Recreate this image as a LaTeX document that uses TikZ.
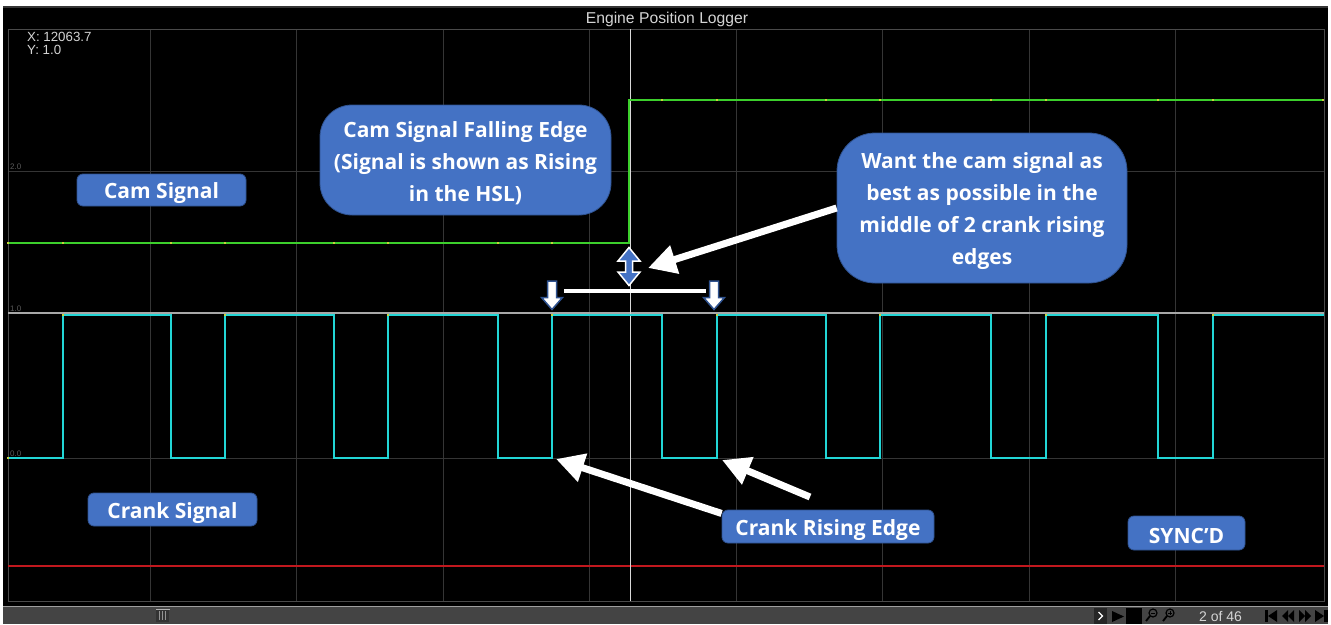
\documentclass[tikz,border=0pt]{standalone}
\usepackage{fontspec}
\usetikzlibrary{arrows.meta}
\newfontfamily\osans{Open Sans}
\newfontfamily\lsans{Liberation Sans}
\newcommand{\lowln}[1]{\raisebox{-3.2pt}[\height][\depth]{#1}}
\definecolor{boxblue}{HTML}{4472C4}
\definecolor{boxedge}{HTML}{2F528F}
\definecolor{framegray}{HTML}{4A4A4A}
\definecolor{gridgray}{HTML}{353535}
\definecolor{onegray}{HTML}{A8A8A8}
\definecolor{camgreen}{HTML}{3CCF2C}
\definecolor{crankcyan}{HTML}{22D6D6}
\definecolor{redline}{HTML}{C2181E}
\definecolor{bargray}{HTML}{444444}
\definecolor{barline}{HTML}{A0A0A0}
\definecolor{dotyellow}{HTML}{C8D23A}
\definecolor{uitext}{HTML}{D4D4D4}
\definecolor{axlabel}{HTML}{5A5A5A}
\begin{document}
\begin{tikzpicture}[x=1pt,y=-1pt,
  callout/.style={fill=boxblue, draw=boxedge, line width=0.8pt, text=white,
    font=\osans\bfseries\fontsize{21}{31.8}\selectfont, align=center, inner sep=0pt},
  whitearrow/.style={draw=white, line width=7pt, -{Triangle[length=28pt,width=28pt]}},
  gridline/.style={draw=gridgray, line width=1pt},
  ydot/.style={fill=dotyellow, minimum size=2.5pt, inner sep=0pt, draw=none},
  axtext/.style={text=axlabel, font=\lsans\fontsize{8}{8}\selectfont, anchor=south west, inner sep=0pt},
  uilabel/.style={text=uitext, font=\lsans\fontsize{13.3}{13}\selectfont, anchor=west, inner sep=0pt, align=left},
  ctl/.style={fill=black, draw=none}]
\useasboundingbox (0,0) rectangle (1331,624);
\fill[white] (0,0) rectangle (1331,624);
% panel
\fill[black] (3,6) rectangle (1328,607);
\draw[draw=gridgray, line width=1.5pt] (3,6.75) -- (1328,6.75);
\node[text=uitext, font=\lsans\fontsize{15.7}{16}\selectfont] (title) at (667,19) {Engine Position Logger};
% grid
\foreach \gx in {150,296.5,443,589.5,736,882.5,1029,1175.5}
  \draw[gridline] (\gx,29) -- (\gx,601);
\draw[gridline] (8,171) -- (1324,171);
\draw[gridline] (8,458) -- (1324,458);
\draw[draw=framegray, line width=1pt] (8,29) rectangle (1324,601);
\draw[draw=onegray, line width=1.2pt] (8,313) -- (1324,313);
\node[axtext] (l2) at (10,170) {2.0};
\node[axtext] (l1) at (10,312) {1.0};
\node[axtext] (l0) at (10,457) {0.0};
\node[uilabel] (xval) at (27,37) {X: 12063.7};
\node[uilabel] (yval) at (27,49.5) {Y: 1.0};
% red line
\draw[draw=redline, line width=2pt] (8,566) -- (1324,566);
% cursor
\draw[draw=white!85!black, line width=1pt] (630,29) -- (630,601);
% cam signal
\draw[draw=camgreen, line width=2pt] (8,243) -- (629,243) -- (629,100) -- (1324,100);
\foreach \dx in {8,63,171,225,334,388,498,552}
  \node[ydot] at (\dx,243) {};
\foreach \dx in {662,717,826,880,991,1046,1158,1213,1323}
  \node[ydot] at (\dx,100) {};
% crank signal
\draw[draw=crankcyan, line width=2pt] (8,458) -- (63,458) -- (63,315) -- (171,315) -- (171,458)
  -- (225,458) -- (225,315) -- (334,315) -- (334,458)
  -- (388,458) -- (388,315) -- (498,315) -- (498,458)
  -- (552,458) -- (552,315) -- (662,315) -- (662,458)
  -- (717,458) -- (717,315) -- (826,315) -- (826,458)
  -- (880,458) -- (880,315) -- (991,315) -- (991,458)
  -- (1046,458) -- (1046,315) -- (1158,315) -- (1158,458)
  -- (1213,458) -- (1213,315) -- (1324,315);
\node[ydot] at (8,458) {};
\foreach \dx in {63,225,388,552,717,880,1046,1213}
  \node[ydot] at (\dx,315) {};
% callouts
\node[callout, rounded corners=6pt, minimum width=169pt, minimum height=32pt] (cam) at (161.5,190) {\lowln{Cam Signal}};
\node[callout, rounded corners=32pt, minimum width=291pt, minimum height=110pt] (fall) at (465.5,160)
  {\lowln{Cam Signal Falling Edge}\\\lowln{(Signal is shown as Rising}\\\lowln{in the HSL)}};
\node[callout, rounded corners=38pt, minimum width=290pt, minimum height=150pt] (want) at (982,208)
  {\lowln{Want the cam signal as}\\\lowln{best as possible in the}\\\lowln{middle of 2 crank rising}\\\lowln{edges}};
\node[callout, rounded corners=6pt, minimum width=169pt, minimum height=33pt] (crank) at (172.5,509.5) {\lowln{Crank Signal}};
\node[callout, rounded corners=6pt, minimum width=212pt, minimum height=33pt] (edge) at (828,526.5) {\lowln{Crank Rising Edge}};
\node[callout, rounded corners=6pt, minimum width=117pt, minimum height=34pt] (sync) at (1186.5,533) {\lowln{SYNC’D}};
% arrow targets
\coordinate (camgap) at (648,268);
\coordinate (edgeA) at (556,459);
\coordinate (edgeB) at (722,460);
\coordinate (tailB) at (810,497);
\coordinate (hbarL) at (564,291);
\coordinate (hbarR) at (706,291);
\draw[whitearrow] (want.west) -- (camgap);
\draw[whitearrow] (edge.173) -- (edgeA);
\draw[whitearrow] (tailB) -- (edgeB);
\draw[draw=white, line width=4pt] (hbarL) -- (hbarR);
% double arrow at cam edge
\draw[fill=boxblue, draw=white, line width=1.5pt, line join=miter]
  (629,247.5) -- (640,261) -- (632.5,261) -- (632.5,272) -- (640,272) -- (629,285.5)
  -- (618,272) -- (625.5,272) -- (625.5,261) -- (618,261) -- cycle;
% down arrows
\foreach \ax in {552,714}
  \draw[fill=white, draw=boxedge, line width=1.5pt, line join=miter]
    (\ax-4.5,281) -- (\ax+4.5,281) -- (\ax+4.5,297.5) -- (\ax+10.5,297.5) -- (\ax,309.5)
    -- (\ax-10.5,297.5) -- (\ax-4.5,297.5) -- cycle;
% bottom bar
\fill[bargray] (3,607) rectangle (1328,624);
\draw[draw=barline, line width=1.2pt] (3,606.5) -- (1328,606.5);
\fill[black!80] (156,609) rectangle (169,622);
\fill[gray!60] (155.5,608.5) rectangle (169.5,609.5);
\foreach \sx in {159.5,162.5,165.5}
  \draw[draw=gray!85, line width=0.9pt] (\sx,611) -- (\sx,620);
\fill[black!85] (1094,608) rectangle (1107,624);
\draw[draw=white, line width=1.3pt] (1098.5,612) -- (1102.5,616) -- (1098.5,620);
\fill[ctl] (1112,611) -- (1124,616.5) -- (1112,622) -- cycle;
\fill[black] (1126,608) rectangle (1142,624);
\draw[draw=black, line width=1.2pt] (1153,613) circle (4);
\draw[draw=black, line width=1.8pt] (1150,616) -- (1146,621);
\draw[draw=black, line width=0.9pt] (1151,613) -- (1155,613);
\draw[draw=black, line width=1.2pt] (1170,613) circle (4);
\draw[draw=black, line width=1.8pt] (1167,616) -- (1163,621);
\draw[draw=black, line width=0.9pt] (1168,613) -- (1172,613) (1170,611) -- (1170,615);
\node[text=uitext, font=\lsans\fontsize{14}{14}\selectfont, inner sep=0pt] (page) at (1220.5,616) {2 of 46};
\fill[ctl] (1265,610) rectangle (1268,622);
\fill[ctl] (1277,610) -- (1268,616) -- (1277,622) -- cycle;
\fill[ctl] (1288,610) -- (1282,616) -- (1288,622) -- cycle;
\fill[ctl] (1294,610) -- (1288,616) -- (1294,622) -- cycle;
\fill[ctl] (1299,610) -- (1305,616) -- (1299,622) -- cycle;
\fill[ctl] (1305,610) -- (1311,616) -- (1305,622) -- cycle;
\fill[ctl] (1315,610) -- (1324,616) -- (1315,622) -- cycle;
\fill[ctl] (1324,610) rectangle (1327.5,622);
\end{tikzpicture}
\end{document}
